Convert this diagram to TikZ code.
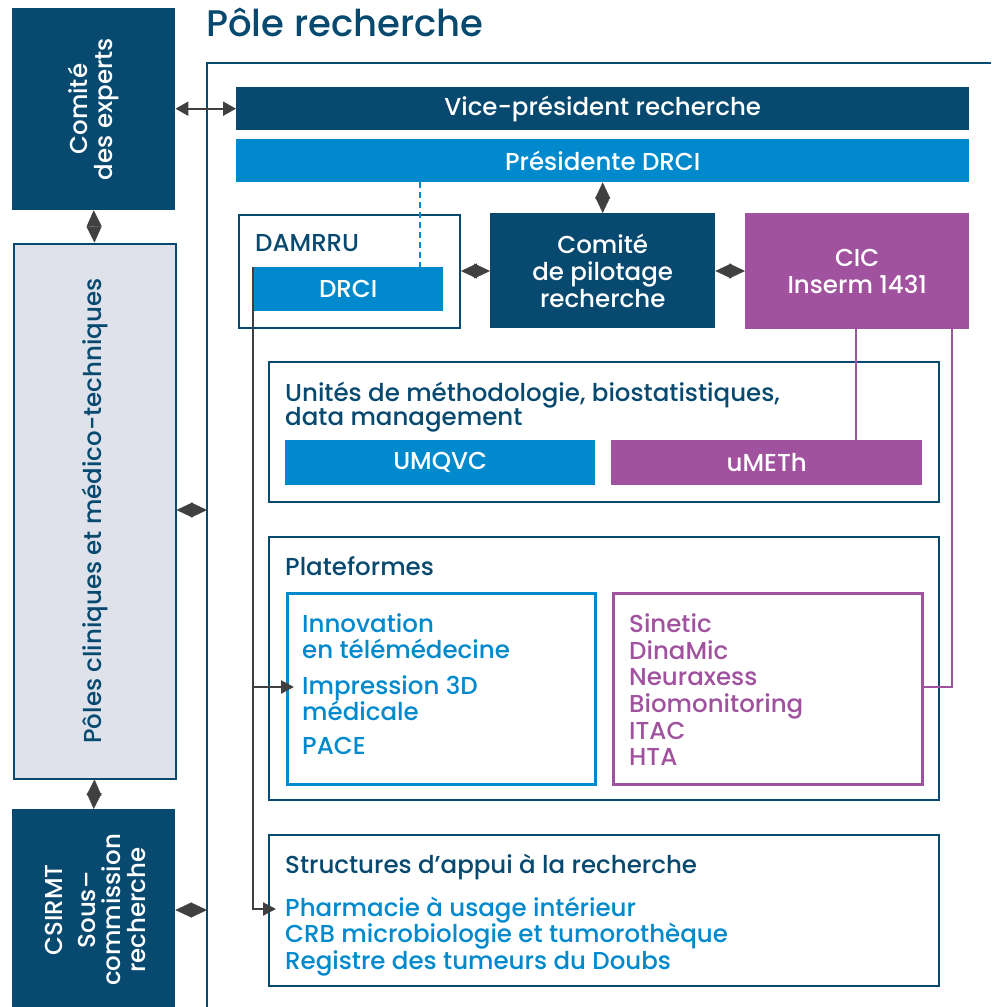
\documentclass[tikz,border=0pt]{standalone}
\usepackage{fontspec}
\setmainfont{Poppins Medium}
\usetikzlibrary{arrows.meta}
\definecolor{navy}{HTML}{07496F}
\definecolor{azure}{HTML}{0089CC}
\definecolor{plum}{HTML}{A0529E}
\definecolor{pale}{HTML}{DFE2EA}
\definecolor{agray}{HTML}{404040}
\begin{document}
\begin{tikzpicture}[x=1pt,y=-1pt,
  fsz/.style={font=\fontsize{24.5}{27}\selectfont},
  solidbox/.style={anchor=north west, inner sep=0pt, text=white, fsz, align=center},
  framebox/.style={anchor=north west, inner sep=0pt, draw=navy, line width=2.5pt},
  hdr/.style={anchor=mid west, inner sep=0pt, text=navy, fsz, align=left},
  itemb/.style={anchor=mid west, inner sep=0pt, text=azure, fsz},
  itemp/.style={anchor=mid west, inner sep=0pt, text=plum, fsz},
  diam/.style={draw=agray, fill=agray, line width=0.4pt, {Triangle[length=16pt,width=15pt]}-{Triangle[length=16pt,width=15pt]}},
  conn/.style={draw=agray, line width=2.2pt},
  ctip/.style={-{Triangle[length=13pt,width=13pt]}}
]
\useasboundingbox (0,0) rectangle (991,1007);

% title
\node[anchor=west, inner sep=0pt, text=navy, font=\fontsize{37}{40}\selectfont] (title) at (206,22) {Pôle recherche};

% outer frame
\coordinate (fbl) at (207,1007);
\coordinate (ftl) at (207,63);
\coordinate (ftr) at (991,63);
\draw[navy, line width=2.5pt] (fbl) -- (ftl) -- (ftr);

% left column
\node[solidbox, fill=navy, minimum width=163, minimum height=202] (experts) at (12,8) {};
\node[rotate=90, text=white, align=center, font=\fontsize{24.5}{25}\selectfont] (expertsT) at (experts.center) {Comité\\des experts};
\node[framebox, fill=pale, draw=navy, line width=2pt, minimum width=162, minimum height=535] (poles) at (12.5,242.5) {};
\node[rotate=90, text=navy, fsz] (polesT) at (poles.center) {Pôles cliniques et médico-techniques};
\node[solidbox, fill=navy, minimum width=163, minimum height=200] (csirmt) at (12,809) {};
\node[rotate=90, text=white, align=center, font=\fontsize{24.5}{25}\selectfont] (csirmtT) at (95,910) {CSIRMT\\[8pt]Sous–\\commission\\recherche};

% top bars
\node[solidbox, fill=navy, minimum width=733, minimum height=43] (vp) at (236,87) {Vice-président recherche};
\node[solidbox, fill=azure, minimum width=733, minimum height=43] (pdrci) at (236,139) {Présidente DRCI};

% second row
\node[framebox, minimum width=221, minimum height=113] (damrru) at (237.5,213.5) {};
\node[hdr] (damrruT) at (255,249) {DAMRRU};
\node[solidbox, fill=azure, minimum width=190, minimum height=44] (drci) at (253,267) {DRCI};
\node[solidbox, fill=navy, minimum width=225, minimum height=115] (copil) at (490,213) {Comité\\de pilotage\\recherche};
\node[solidbox, fill=plum, minimum width=224, minimum height=116] (cic) at (745,213) {CIC\\Inserm 1431};

% Unites
\node[framebox, minimum width=670, minimum height=140] (unites) at (267.5,360.5) {};
\node[hdr, anchor=north west] (unitesT) at (285,382) {Unités de méthodologie, biostatistiques,\\[-3pt]data management};
\node[solidbox, fill=azure, minimum width=310, minimum height=45] (umqvc) at (285,440) {UMQVC};
\node[solidbox, fill=plum, minimum width=311, minimum height=45] (umeth) at (611,440) {uMETh};

% Plateformes
\node[framebox, minimum width=670, minimum height=263] (plat) at (267.5,535.5) {};
\node[hdr] (platT) at (285,573) {Plateformes};
\node[framebox, draw=azure, minimum width=308, minimum height=191] (platL) at (286,592) {};
\node[framebox, draw=plum, minimum width=309, minimum height=191] (platR) at (612,592) {};
\node[itemb] (i1) at (302,630) {Innovation};
\node[itemb] (i2) at (302,656) {en télémédecine};
\node[itemb] (i3) at (302,692) {Impression 3D};
\node[itemb] (i4) at (302,718) {médicale};
\node[itemb] (i5) at (302,752) {PACE};
\node[itemp] (p1) at (629,630) {Sinetic};
\node[itemp] (p2) at (629,657) {DinaMic};
\node[itemp] (p3) at (629,683) {Neuraxess};
\node[itemp] (p4) at (629,710) {Biomonitoring};
\node[itemp] (p5) at (629,737) {ITAC};
\node[itemp] (p6) at (629,763) {HTA};

% Structures
\node[framebox, minimum width=670, minimum height=151] (struct) at (267.5,833.5) {};
\node[hdr] (structT) at (285,871) {Structures d’appui à la recherche};
\node[itemb] (s1) at (285,914) {Pharmacie à usage intérieur};
\node[itemb] (s2) at (285,940) {CRB microbiologie et tumorothèque};
\node[itemb] (s3) at (285,967) {Registre des tumeurs du Doubs};

% connectors
\draw[draw=agray, fill=agray, line width=2.2pt, {Triangle[length=13pt,width=14pt]}-{Triangle[length=13pt,width=14pt]}] (experts.east |- vp.west) -- (vp.west);
\draw[diam] (experts.south) -- (poles.north);
\draw[diam] (poles.south) -- (csirmt.north);
\draw[diam] (poles.east |- 0,510) -- (ftl |- 0,510);
\draw[diam] (csirmt.east |- 0,910) -- (ftl |- 0,910);
\draw[diam] (pdrci.south -| copil.north) -- (copil.north);
\draw[diam] (damrru.east |- 0,271) -- (copil.west |- 0,271);
\draw[diam] (copil.east |- 0,271) -- (cic.west |- 0,271);

\draw[azure, line width=2.5pt, dash pattern=on 6pt off 4pt] (pdrci.south -| 420,0) -- (drci.north -| 420,0);

\draw[plum, line width=2.5pt] (cic.south -| 856,0) -- (umeth.north -| 856,0);
\draw[plum, line width=2.5pt] (cic.south -| 952,0) |- (platR.east |- 0,687);

\coordinate (t1) at (294,687);
\coordinate (t2) at (276,909);
\draw[conn, ctip] (drci.north west) |- (t2);
\draw[conn, ctip] (drci.north west |- t1) -- (t1);
\end{tikzpicture}
\end{document}
